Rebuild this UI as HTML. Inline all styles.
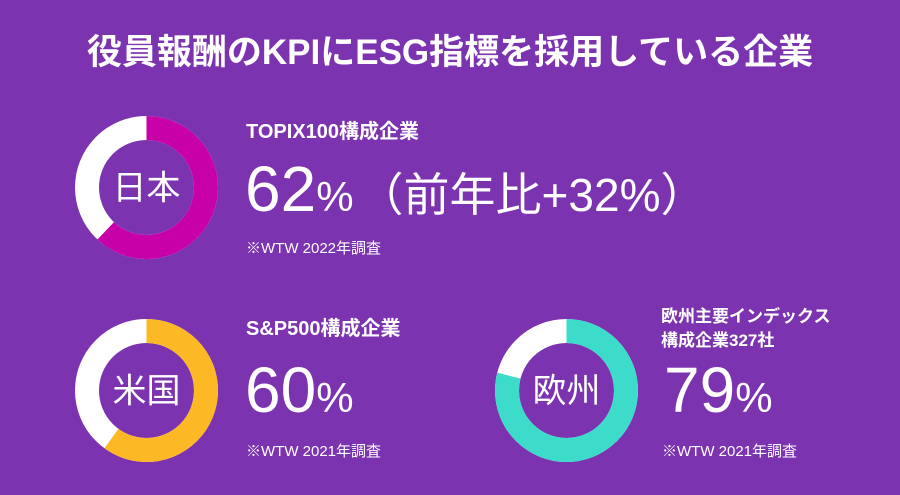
<!DOCTYPE html>
<html><head><meta charset="utf-8"><style>
html,body{margin:0;padding:0;background:#7B33B0;}
svg{display:block}
text{font-family:"Liberation Sans","Noto Sans CJK JP",sans-serif;fill:#fff}
</style></head><body>
<svg width="900" height="495" viewBox="0 0 900 495" xmlns="http://www.w3.org/2000/svg">
<rect width="900" height="495" fill="#7B33B0"/>
<text x="450" y="64" text-anchor="middle" font-size="35" font-weight="bold">役員報酬のKPIにESG指標を採用している企業</text>

<g transform="translate(146.5,187.5)">
<circle r="59.5" fill="none" stroke="#fff" stroke-width="24"/>
<circle r="59.5" fill="none" stroke="#C800A8" stroke-width="24" stroke-dasharray="231.8 400" transform="rotate(-90)"/>
<text y="12" text-anchor="middle" font-size="34">日本</text>
</g>
<g transform="translate(146.5,390.5)">
<circle r="59.5" fill="none" stroke="#fff" stroke-width="24"/>
<circle r="59.5" fill="none" stroke="#FDB825" stroke-width="24" stroke-dasharray="224.3 400" transform="rotate(-90)"/>
<text y="12" text-anchor="middle" font-size="34">米国</text>
</g>
<g transform="translate(566.5,390.5)">
<circle r="59.5" fill="none" stroke="#fff" stroke-width="24"/>
<circle r="59.5" fill="none" stroke="#3DDBC9" stroke-width="24" stroke-dasharray="295.3 400" transform="rotate(-90)"/>
<text y="12" text-anchor="middle" font-size="34">欧州</text>
</g>

<text x="246" y="138" font-size="20" font-weight="bold">TOPIX100構成企業</text>
<text x="245" y="211" font-size="64">62<tspan font-size="42">%</tspan><tspan font-size="46" dx="4">（前年比+32%）</tspan></text>
<text x="246" y="253" font-size="15">※WTW 2022年調査</text>

<text x="246" y="335" font-size="20" font-weight="bold">S&amp;P500構成企業</text>
<text x="245" y="412" font-size="64">60<tspan font-size="42">%</tspan></text>
<text x="246" y="456" font-size="15">※WTW 2021年調査</text>

<text x="661" y="322" font-size="17" font-weight="bold">欧州主要インデックス</text>
<text x="661" y="346" font-size="17" font-weight="bold">構成企業327社</text>
<text x="664" y="412" font-size="64">79<tspan font-size="42">%</tspan></text>
<text x="662" y="456" font-size="15">※WTW 2021年調査</text>
</svg>
</body></html>
